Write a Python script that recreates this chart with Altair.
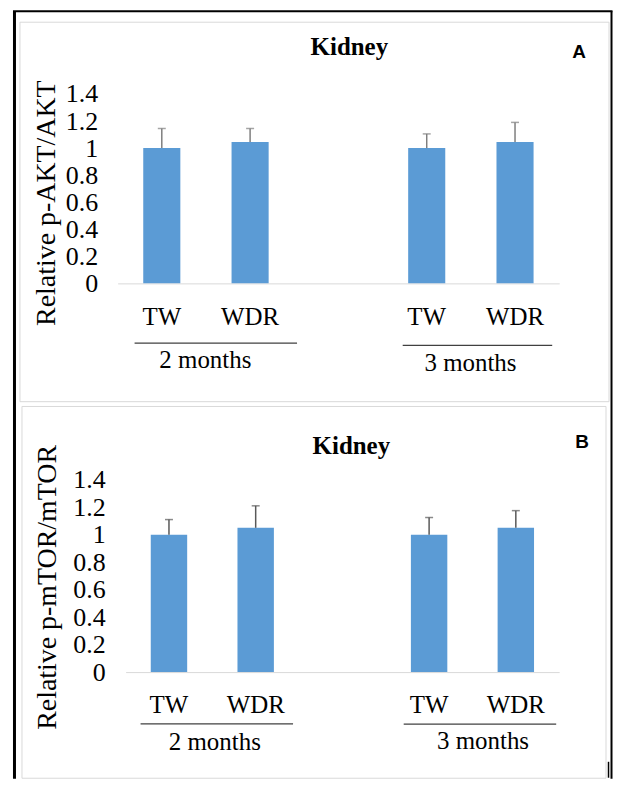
import altair as alt
import pandas as pd

# ---------------- data ----------------
groups = ["2 months", "2 months", "3 months", "3 months"]
treatments = ["TW", "WDR", "TW", "WDR"]
akt_mean = [1.0, 1.045, 1.0, 1.045]
akt_err = [0.145, 0.10, 0.105, 0.145]
mtor_mean = [1.0, 1.05, 1.0, 1.05]
mtor_err = [0.11, 0.16, 0.125, 0.125]
y_ticks = [0, 0.2, 0.4, 0.6, 0.8, 1.0, 1.2, 1.4]
group_names = ["2 months", "3 months"]
slot_order = ["2 months|TW", "2 months|WDR", "gap", "3 months|TW", "3 months|WDR"]

BAR = "#5b9bd5"
SERIF = "Liberation Serif"
SANS = "Liberation Sans"
FRAME = "#d9d9d9"


def one():
    return alt.InlineData(values=[{"k": 0}])


def hline(x1, x2, y, color, w, cap="butt"):
    return alt.Chart(one()).mark_rule(color=color, strokeWidth=w, strokeCap=cap).encode(
        x=alt.value(x1), x2=alt.value(x2), y=alt.value(y))


def vline(x, y1, y2, color, w, cap="butt"):
    return alt.Chart(one()).mark_rule(color=color, strokeWidth=w, strokeCap=cap).encode(
        x=alt.value(x), y=alt.value(y1), y2=alt.value(y2))


def label(txt, x, y, font, size, weight="normal"):
    return alt.Chart(one()).mark_text(
        text=txt, font=font, fontSize=size, fontWeight=weight, color="black",
        align="center", baseline="alphabetic").encode(x=alt.value(x), y=alt.value(y))


def panel(mean, err, ytitle, letter, g):
    df = pd.DataFrame({
        "slot": [f"{a}|{b}" for a, b in zip(groups, treatments)],
        "mean": mean,
        "upper": [m + e for m, e in zip(mean, err)],
    })
    xscale = alt.Scale(domain=slot_order, range=g["xrange"], paddingInner=0.58, paddingOuter=0.29)
    xaxis = alt.Axis(
        labelExpr="indexof(datum.label, '|') > 0 ? split(datum.label, '|')[1] : ''",
        labelAngle=0, labelFont=SERIF, labelFontSize=25, labelColor="black",
        labelBaseline="alphabetic", labelPadding=41, ticks=False, tickSize=0,
        domainColor=FRAME, domainWidth=1, grid=False, title=None)
    yscale = alt.Scale(domain=[0, 1.4], nice=False, zero=True)
    yaxis = alt.Axis(
        values=y_ticks, format="~g", labelFont=SERIF, labelFontSize=26, labelColor="black",
        labelPadding=g["lp"], labelOverlap=False, ticks=False, tickSize=0, domain=False,
        grid=False, titleFont=SERIF, titleFontSize=28, titleFontWeight="normal",
        titleColor="black", titleAngle=270, titleAlign="center", titleBaseline="middle",
        titleX=g["tx"], titleY=g["ty"])

    def X():
        return alt.X("slot:N", scale=xscale, sort=slot_order, axis=xaxis, title=None)

    def Y(f):
        return alt.Y(f, scale=yscale, axis=yaxis, title=ytitle)

    base = alt.Chart(df)
    bars = base.mark_bar(color=BAR).encode(x=X(), y=Y("mean:Q"))
    rules = base.mark_rule(color=g["ecol"], strokeWidth=1.5).encode(
        x=X(), y=Y("mean:Q"), y2=alt.Y2("upper:Q"))
    caps = base.mark_tick(color=g["ecol"], thickness=1.5, size=8).encode(x=X(), y=Y("upper:Q"))

    fx1, fx2, fy1, fy2 = g["frame"]
    frame = alt.Chart(one()).mark_rect(filled=False, stroke=FRAME, strokeWidth=1).encode(
        x=alt.value(fx1), x2=alt.value(fx2), y=alt.value(fy1), y2=alt.value(fy2))

    layers = [frame, bars, rules, caps]
    layers.append(label("Kidney", g["title"][0], g["title"][1], SERIF, 25, "bold"))
    layers.append(label(letter, g["letter"][0], g["letter"][1], SANS, 19, "bold"))
    for name, (x1, x2, ly), (tx, ty) in zip(group_names, g["glines"], g["gtext"]):
        layers.append(hline(x1, x2, ly, "#404040", 1.3))
        layers.append(label(name, tx, ty, SERIF, 25))
    if g.get("mark") is not None:
        mx, my1, my2 = g["mark"]
        layers.append(vline(mx, my1, my2, "black", 1.5))
    if g.get("black") is not None:
        top, bottom = g["black"]
        layers.append(hline(-105, 496.5, top, "black", 2))
        layers.append(vline(-103.5, top, bottom, "black", 3))
        layers.append(vline(495.5, top, bottom, "black", 2))

    return alt.layer(*layers).properties(width=443, height=g["h"])


# panel A plot origin sits at page (117, 92); panel B plot origin at page (117, 479)
geomA = dict(xrange=[0, 443], h=190, lp=20, tx=-71.5, ty=109, ecol="#7f7f7f",
             frame=(-98, 493, -72, 308.7), black=None,
             title=(232.5, -39), letter=(463, -36),
             glines=[(17, 180, 250), (286, 436, 252.3)],
             gtext=[(88, 275), (354, 278)])
geomB = dict(xrange=[8, 443], h=193, lp=12.5, tx=-70, ty=107.5, ecol="#595959",
             frame=(-96, 490, -73.5, 299.5), black=(-470, 300),
             mark=(492.5, 283, 299),
             title=(234.5, -26), letter=(466, -32),
             glines=[(23, 176, 245), (287, 440, 245.3)],
             gtext=[(97.5, 271), (366.6, 270)])

pA = panel(akt_mean, akt_err, "Relative p-AKT/AKT", "A", geomA)
pB = panel(mtor_mean, mtor_err, "Relative p-mTOR/mTOR", "B", geomB)

chart = alt.vconcat(pA, pB, spacing=197, bounds="flush").properties(
    padding={"left": 4, "top": 0, "right": 0, "bottom": 0},
    background="white",
).configure_view(stroke=None)

chart.save("out.html", embed_options={"renderer": "svg", "actions": False})
